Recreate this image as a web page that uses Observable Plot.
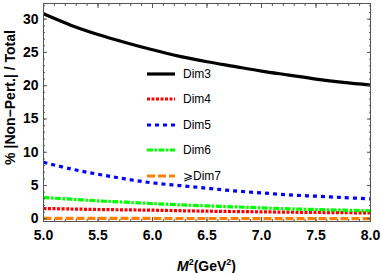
<!DOCTYPE html>
<html>
<head>
<meta charset="utf-8">
<script src="https://cdn.jsdelivr.net/npm/d3@7"></script>
<script src="https://cdn.jsdelivr.net/npm/@observablehq/plot@0.6"></script>
<style>
  html, body { margin: 0; padding: 0; background: #fff; }
  #wrap { position: relative; width: 382px; height: 273px; font-family: "Liberation Sans", Arial, sans-serif; }
  #xlabel { position: absolute; left: 43px; width: 327px; top: 252px; text-align: center; font-size: 14px; font-weight: bold; line-height: 20px; }
  #legend { position: absolute; left: 147px; top: 61px; font-size: 12px; }
  .row { display: flex; align-items: center; height: 25.5px; }
  .row span { margin-left: 8px; }
</style>
</head>
<body>
<div id="wrap"></div>
<script>
// ---- data ----
const m2   = [5.0, 5.25, 5.5, 5.75, 6.0, 6.25, 6.5, 6.75, 7.0, 7.25, 7.5, 7.75, 8.0];
const dim3 = [30.8, 29.1, 27.7, 26.5, 25.4, 24.4, 23.6, 22.9, 22.2, 21.6, 21.0, 20.5, 20.1];
const dim4 = [1.55, 1.48, 1.4, 1.35, 1.3, 1.22, 1.15, 1.1, 1.05, 1.0, 0.96, 0.92, 0.9];
const dim5 = [8.5, 7.5, 6.7, 6.0, 5.4, 5.0, 4.6, 4.2, 3.9, 3.6, 3.4, 3.2, 3.0];
const dim6 = [3.2, 2.95, 2.7, 2.5, 2.3, 2.1, 1.95, 1.8, 1.65, 1.5, 1.4, 1.3, 1.2];
const dim7 = [0.07, 0.065, 0.06, 0.058, 0.055, 0.052, 0.05, 0.048, 0.046, 0.044, 0.042, 0.04, 0.04];

const seriesNames = ["Dim3", "Dim4", "Dim5", "Dim6", "\u2A7EDim7"];
const seriesColors = ["#000000", "#ff0000", "#0000ff", "#00ff00", "#ff8000"];
const seriesDash = [null, "3 1.5", "4 4", "6 1.5 2.5 1.5", "8 3"];
const seriesValues = [dim3, dim4, dim5, dim6, dim7];

const xTicks = [5.0, 5.5, 6.0, 6.5, 7.0, 7.5, 8.0];
const xMinor = d3.range(50, 81).map(d => d / 10);
const yTicks = [0, 5, 10, 15, 20, 25, 30];
const yMinor = d3.range(0, 33);
const yLabel = "% |Non\u2212Pert.| / Total";

// ---- chart ----
const frameColor = "#555";
const drawOrder = [4, 1, 3, 2, 0];
const lineMarks = drawOrder.map(i =>
  Plot.line(m2.map((x, j) => ({x, y: seriesValues[i][j]})), {
    x: "x", y: "y", stroke: seriesColors[i], strokeWidth: 3.2,
    strokeDasharray: seriesDash[i], curve: "catmull-rom", strokeLinecap: "butt"
  })
);

const chart = Plot.plot({
  width: 382,
  height: 273,
  marginLeft: 43,
  marginRight: 12,
  marginTop: 3,
  marginBottom: 52,
  style: {fontFamily: "Liberation Sans, Arial, sans-serif", background: "white"},
  x: {domain: [5, 8]},
  y: {domain: [-0.4, 32.35]},
  marks: [
    ...lineMarks,
    Plot.frame({stroke: frameColor, strokeWidth: 1}),
    // bottom
    Plot.axisX({anchor: "bottom", ticks: xTicks, tickSize: -4, tickPadding: 13, tickFormat: d3.format(".1f"), fontSize: 14, fontWeight: "bold", label: null, stroke: frameColor, color: "black"}),
    Plot.axisX({anchor: "bottom", ticks: xMinor, tickSize: -2, text: null, label: null, stroke: frameColor}),
    // top
    Plot.axisX({anchor: "top", ticks: xTicks, tickSize: -4, text: null, label: null, stroke: frameColor}),
    Plot.axisX({anchor: "top", ticks: xMinor, tickSize: -2, text: null, label: null, stroke: frameColor}),
    // left
    Plot.axisY({anchor: "left", ticks: yTicks, tickSize: -4, tickPadding: 9, fontSize: 14, fontWeight: "bold", label: null, stroke: frameColor}),
    Plot.axisY({anchor: "left", ticks: yMinor, tickSize: -2, text: null, label: null, stroke: frameColor}),
    // right
    Plot.axisY({anchor: "right", ticks: yTicks, tickSize: -4, text: null, label: null, stroke: frameColor}),
    Plot.axisY({anchor: "right", ticks: yMinor, tickSize: -2, text: null, label: null, stroke: frameColor}),
    Plot.text([yLabel], {text: d => d, frameAnchor: "left", textAnchor: "middle", rotate: -90, dx: -33, dy: -15, fontSize: 14, fontWeight: "bold", fill: "black"})
  ]
});

const wrap = document.getElementById("wrap");
wrap.appendChild(chart);

const xl = document.createElement("div");
xl.id = "xlabel";
xl.innerHTML = "<i>M</i><sup style='font-size:9px'>2</sup>(GeV<sup style='font-size:9px'>2</sup>)";
wrap.appendChild(xl);

const leg = document.createElement("div");
leg.id = "legend";
seriesNames.forEach((name, i) => {
  const row = document.createElement("div");
  row.className = "row";
  const dash = seriesDash[i] ? `stroke-dasharray="${seriesDash[i]}"` : "";
  row.innerHTML = `<svg width="28" height="6"><line x1="0" x2="28" y1="3" y2="3" stroke="${seriesColors[i]}" stroke-width="3.2" ${dash}/></svg><span>${name}</span>`;
  leg.appendChild(row);
});
wrap.appendChild(leg);
</script>
</body>
</html>
